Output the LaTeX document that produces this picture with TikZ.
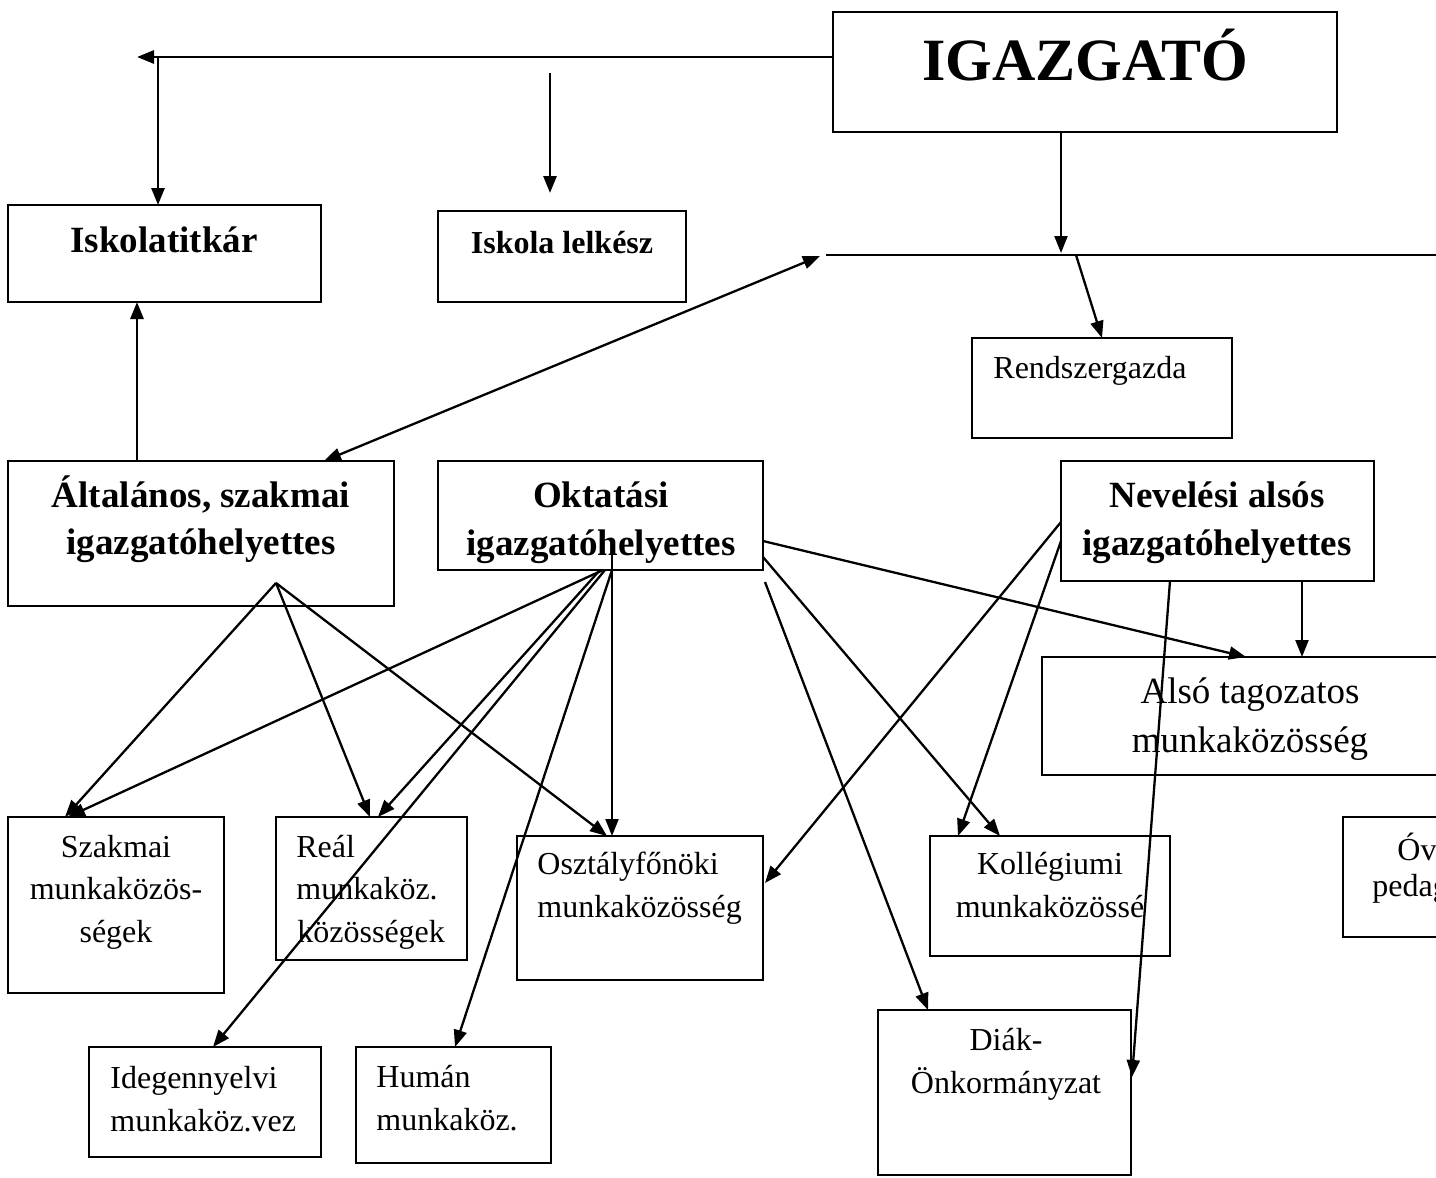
\documentclass[tikz,border=0pt]{standalone}
\usepackage{fontspec}
\setmainfont{Liberation Serif}
\usetikzlibrary{arrows.meta,calc}
\begin{document}
\begin{tikzpicture}[x=0.5pt,y=-0.5pt,
  box/.style={draw, line width=1pt, inner sep=0pt, outer sep=0pt},
  arr/.style={line width=1.15pt, -{Triangle[length=8.5pt,width=6.5pt]}},
  tarr/.style={line width=1.4pt, -{Triangle[length=8.5pt,width=6.5pt]}},
  bt/.style={font=\fontsize{18.5}{22}\selectfont\bfseries, anchor=base, inner sep=0pt},
  nt/.style={font=\fontsize{16}{19}\selectfont, anchor=base, inner sep=0pt},
  ntl/.style={nt, anchor=base west},
  lt/.style={font=\fontsize{18.5}{22}\selectfont, anchor=base, inner sep=0pt}]
\fill[white] (0,0) rectangle (1436,1178);
\useasboundingbox (0,0) rectangle (1436,1178);
\begin{scope}
\clip (0,0) rectangle (1436,1178);
% boxes
\node[box, minimum width=252pt, minimum height=60pt] (igaz) at (1085,72) {};
\node[box, minimum width=156.5pt, minimum height=48.5pt] (iskt) at (164.5,253.5) {};
\node[box, minimum width=124pt, minimum height=45.5pt] (iskl) at (562,256.5) {};
\node[box, minimum width=130pt, minimum height=50pt] (rend) at (1102,388) {};
\node[box, minimum width=193pt, minimum height=72.5pt] (alt) at (201,533.5) {};
\node[box, minimum width=162.5pt, minimum height=54.5pt] (okt) at (600.5,515.5) {};
\node[box, minimum width=156.5pt, minimum height=60pt] (nev) at (1217.5,521) {};
\node[box, minimum width=214pt, minimum height=59pt] (also) at (1256,716) {};
\node[box, minimum width=108pt, minimum height=88pt] (szak) at (116,905) {};
\node[box, minimum width=95.5pt, minimum height=71.5pt] (real) at (371.5,888.5) {};
\node[box, minimum width=123pt, minimum height=72pt] (oszt) at (640,908) {};
\node[box, minimum width=120pt, minimum height=60pt] (koll) at (1050,896) {};
\node[box, minimum width=63.5pt, minimum height=60pt] (ovo) at (1406.5,877) {};
\node[box, minimum width=116pt, minimum height=55pt] (ide) at (205,1102) {};
\node[box, minimum width=97.5pt, minimum height=58pt] (hum) at (453.5,1105) {};
\node[box, minimum width=126.5pt, minimum height=82.5pt] (diak) at (1004.5,1092.5) {};
% texts
\node[bt, font=\fontsize{30}{36}\selectfont\bfseries] (igazT) at (1085,80) {IGAZGATÓ};
\node[bt] (isktT) at (164,252) {Iskolatitkár};
\node[bt, font=\fontsize{16}{19}\selectfont\bfseries] (isklT) at (562,253) {Iskola lelkész};
\node[ntl] (rendT) at (993,378) {Rendszergazda};
\node[bt] (altT1) at (201,507) {Általános, szakmai};
\node[bt] (altT2) at (201,554) {igazgatóhelyettes};
\node[bt] (oktT1) at (601,507) {Oktatási};
\node[bt] (oktT2) at (601,555) {igazgatóhelyettes};
\node[bt] (nevT1) at (1217,507) {Nevelési alsós};
\node[bt] (nevT2) at (1217,555) {igazgatóhelyettes};
\node[lt] (alsoT1) at (1250,703) {Alsó tagozatos};
\node[lt] (alsoT2) at (1250,752) {munkaközösség};
\node[nt] (szakT1) at (116,857) {Szakmai};
\node[nt] (szakT2) at (116,899) {munkaközös-};
\node[nt] (szakT3) at (116,942) {ségek};
\node[ntl] (realT1) at (296,857) {Reál};
\node[ntl] (realT2) at (296,899) {munkaköz.};
\node[ntl] (realT3) at (297,942) {közösségek};
\node[ntl] (osztT1) at (537,874) {Osztályfőnöki};
\node[ntl] (osztT2) at (537,917) {munkaközösség};
\node[nt] (kollT1) at (1050,874) {Kollégiumi};
\node[nt] (kollT2) at (1050,917) {munkaközössé};
\node[ntl] (ovoT1) at (1397,860) {Óv};
\node[ntl] (ovoT2) at (1372,896) {pedag};
\node[ntl] (ideT1) at (110,1088) {Idegennyelvi};
\node[ntl] (ideT2) at (110,1131) {munkaköz.vez};
\node[ntl] (humT1) at (376,1087) {Humán};
\node[ntl] (humT2) at (376,1130) {munkaköz.};
\node[nt] (diakT1) at (1006,1050) {Diák-};
\node[nt] (diakT2) at (1006,1093) {Önkormányzat};
% coordinates
\coordinate (tl) at (137,57);
\coordinate (tj) at (158,57);
\coordinate (fa1) at (550,73);
\coordinate (fa2) at (550,193);
\coordinate (hl) at (826,255);
\coordinate (hr) at (1440,255);
\coordinate (dg) at (820,256);
\coordinate (hdown) at (1061,253);
\coordinate (hr1) at (1076,255);
% top connectors
\draw[tarr] ($(igaz.north west)+(0,45)$) -- (tl);
\draw[tarr] (tj) -- ($(iskt.north west)+(150,0)$);
\draw[tarr] (fa1) -- (fa2);
\draw[arr] ($(igaz.south west)+(228,0)$) -- (hdown);
\draw[line width=1.4pt] (hl) -- (hr);
\draw[arr] (hr1) -- ($(rend.north west)+(130,0)$);
\draw[line width=1.15pt, {Triangle[length=8.5pt,width=6.5pt]}-{Triangle[length=8.5pt,width=6.5pt]}] ($(alt.north west)+(316,0)$) -- (dg);
\draw[tarr] ($(alt.north west)+(129,0)$) -- ($(iskt.south west)+(129,0)$);
% from Altalanos
\coordinate (altS) at ($(alt.south west)+(268,-23)$);
\draw[arr] (altS) -- ($(szak.north west)+(57,0)$);
\draw[arr] (altS) -- ($(real.north west)+(94,0)$);
\draw[arr] (altS) -- ($(oszt.north west)+(90,0)$);
% from Oktatasi
\draw[arr] ($(okt.south west)+(165,0)$) -- ($(szak.north west)+(60,0)$);
\draw[arr] ($(okt.south west)+(162,0)$) -- ($(real.north west)+(102,0)$);
\draw[arr] ($(okt.south west)+(167,0)$) -- ($(ide.north west)+(124,0)$);
\draw[arr] ($(okt.south west)+(174,0)$) -- ($(hum.north west)+(99,0)$);
\draw[arr] ($(okt.south west)+(174,-15)$) -- ($(oszt.north west)+(95,0)$);
\draw[arr] ($(okt.north east)+(0,80)$) -- ($(also.north west)+(204,0)$);
\draw[arr] ($(okt.north east)+(0,96)$) -- ($(koll.north west)+(70,0)$);
\draw[arr] ($(okt.south east)+(2,12)$) -- ($(diak.north west)+(50,0)$);
% from Nevelesi
\draw[arr] ($(nev.north west)+(0,61)$) -- ($(oszt.north east)+(2,47)$);
\draw[arr] ($(nev.north west)+(0,80)$) -- ($(koll.north west)+(28,0)$);
\draw[arr] ($(nev.south west)+(109,0)$) -- ($(diak.north east)+(1,67)$);
\draw[arr] ($(nev.south west)+(241,0)$) -- ($(also.north west)+(260,0)$);
\end{scope}
\end{tikzpicture}
\end{document}
